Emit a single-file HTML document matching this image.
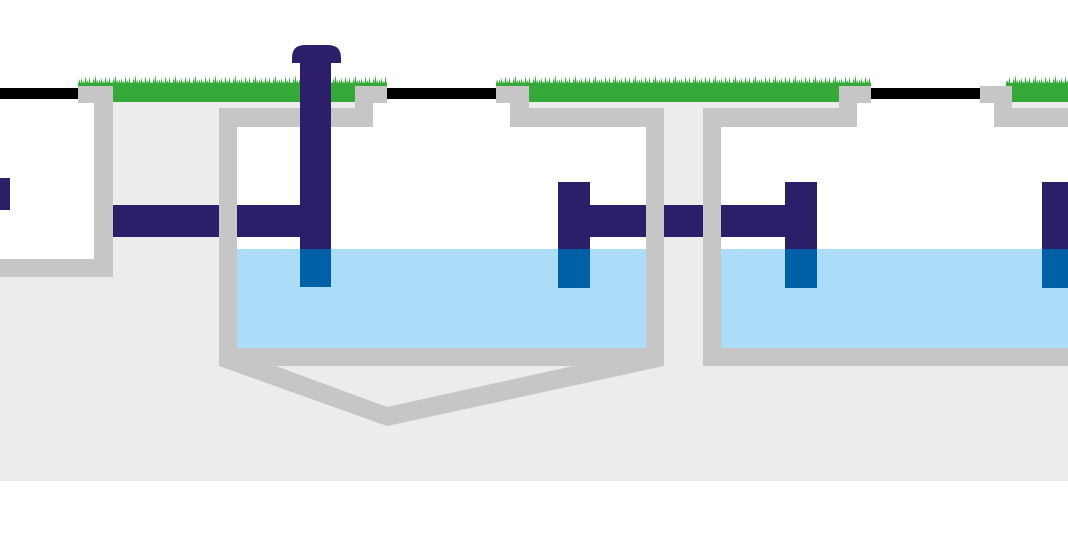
<!DOCTYPE html>
<html>
<head>
<meta charset="utf-8">
<style>
html,body{margin:0;padding:0;background:#fff;}
svg{display:block;}
</style>
</head>
<body>
<svg width="1068" height="538" viewBox="0 0 1068 538" xmlns="http://www.w3.org/2000/svg" shape-rendering="crispEdges">
<defs>
<pattern id="grass" x="0" y="74" width="20" height="12" patternUnits="userSpaceOnUse">
<path d="M0,12 L1.5,4 L3,12 Z M2,12 L3.5,7 L5,12 Z M4,12 L5.5,2 L7,12 Z M6,12 L7.5,6 L9,12 Z M8,12 L9.5,3 L11,12 Z M10,12 L11.5,8 L13,12 Z M12,12 L13.5,4 L15,12 Z M14,12 L15.5,1 L17,12 Z M16,12 L17.5,6 L19,12 Z M18,12 L19.5,5 L21,12 Z M-2,12 L-0.5,5 L1,12 Z" fill="#35a83a" shape-rendering="geometricPrecision"/>
<rect x="0" y="9" width="20" height="3" fill="#35a83a"/>
</pattern>
</defs>
<!-- ground -->
<rect x="0" y="102" width="1068" height="379" fill="#ececec"/>
<!-- interiors -->
<rect x="0" y="99" width="94" height="160" fill="#fff"/>
<rect x="373" y="99" width="137" height="30" fill="#fff"/>
<rect x="237" y="108" width="409" height="240" fill="#fff"/>
<rect x="857" y="99" width="137" height="30" fill="#fff"/>
<rect x="721" y="108" width="347" height="240" fill="#fff"/>
<!-- water -->
<rect x="237" y="249" width="409" height="99" fill="#addcf8"/>
<rect x="721" y="249" width="347" height="99" fill="#addcf8"/>
<!-- grass -->
<rect x="78" y="74" width="309" height="12" fill="url(#grass)" shape-rendering="geometricPrecision"/>
<rect x="496" y="74" width="375" height="12" fill="url(#grass)" shape-rendering="geometricPrecision"/>
<rect x="1006" y="74" width="62" height="12" fill="url(#grass)" shape-rendering="geometricPrecision"/>
<rect x="113" y="83" width="242" height="19" fill="#35a83a"/>
<rect x="529" y="83" width="310" height="19" fill="#35a83a"/>
<rect x="1012" y="83" width="56" height="19" fill="#35a83a"/>
<!-- black ground lines -->
<rect x="0" y="88" width="78" height="11" fill="#000"/>
<rect x="387" y="88" width="109" height="11" fill="#000"/>
<rect x="871" y="88" width="109" height="11" fill="#000"/>
<!-- horizontal pipes -->
<rect x="0" y="178" width="10" height="32" fill="#2d1e69"/>
<rect x="113" y="205" width="190" height="32" fill="#2d1e69"/>
<rect x="588" y="205" width="199" height="32" fill="#2d1e69"/>
<!-- T pipes -->
<rect x="558" y="182" width="32" height="67" fill="#2d1e69"/>
<rect x="558" y="249" width="32" height="39" fill="#0060a6"/>
<rect x="785" y="182" width="32" height="67" fill="#2d1e69"/>
<rect x="785" y="249" width="32" height="39" fill="#0060a6"/>
<rect x="1042" y="182" width="26" height="67" fill="#2d1e69"/>
<rect x="1042" y="249" width="26" height="39" fill="#0060a6"/>
<!-- gray structures -->
<g fill="#c6c6c6">
<!-- left chamber -->
<rect x="78" y="86" width="35" height="17"/>
<rect x="94" y="86" width="19" height="191"/>
<rect x="0" y="259" width="113" height="18"/>
<!-- tank 1 -->
<rect x="219" y="108" width="18" height="258"/>
<rect x="219" y="108" width="154" height="19"/>
<rect x="355" y="86" width="32" height="17"/>
<rect x="355" y="86" width="18" height="41"/>
<rect x="496" y="86" width="33" height="17"/>
<rect x="510" y="86" width="19" height="41"/>
<rect x="510" y="108" width="154" height="19"/>
<rect x="646" y="108" width="18" height="258"/>
<rect x="219" y="348" width="445" height="18"/>
<polygon points="219,366 387,426 664,366 573,366 387,407 276,366" shape-rendering="geometricPrecision"/>
<!-- tank 2 -->
<rect x="703" y="108" width="18" height="258"/>
<rect x="703" y="108" width="154" height="19"/>
<rect x="839" y="86" width="32" height="17"/>
<rect x="839" y="86" width="18" height="41"/>
<rect x="980" y="86" width="32" height="17"/>
<rect x="994" y="86" width="18" height="41"/>
<rect x="994" y="108" width="74" height="19"/>
<rect x="703" y="348" width="365" height="18"/>
</g>
<!-- vent pipe -->
<rect x="300" y="60" width="31" height="189" fill="#2d1e69"/>
<rect x="300" y="249" width="31" height="38" fill="#0060a6"/>
<path d="M292,63 L292,58 Q292,45 305,45 L328,45 Q341,45 341,58 L341,63 Z" fill="#2d1e69" shape-rendering="geometricPrecision"/>
</svg>
</body>
</html>
